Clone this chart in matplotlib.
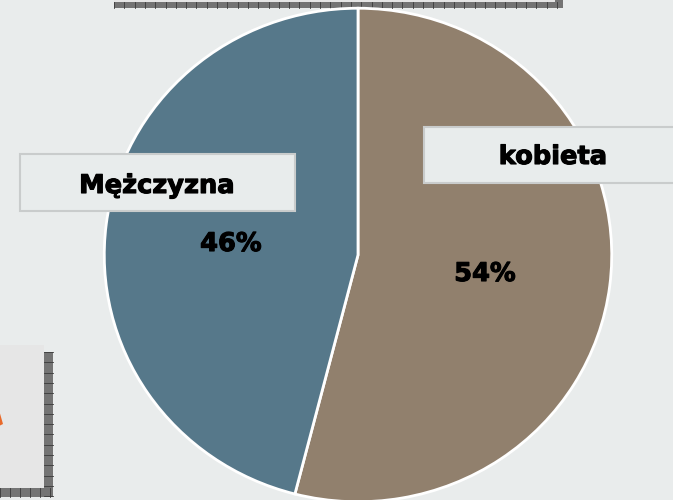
import matplotlib
matplotlib.use("Agg")
import matplotlib.pyplot as plt
from matplotlib.patches import Rectangle, Polygon
import matplotlib.patheffects as pe

categories = ["kobieta", "Mężczyzna"]
values = [54, 46]
colors = ["#91806D", "#56788A"]

W, H = 673, 500
fig = plt.figure(figsize=(W / 100, H / 100), dpi=100)
fig.patch.set_facecolor("#E9ECEC")

# background decorations (pixel coordinates)
bg = fig.add_axes([0, 0, 1, 1])
bg.set_xlim(0, W)
bg.set_ylim(H, 0)
bg.axis("off")
bg.set_zorder(0)

def checker_bar(ax, x0, y0, w, h, step, vertical=False):
    ax.add_patch(Rectangle((x0, y0), w, h, facecolor="#747474", edgecolor="none"))
    if vertical:
        y = y0
        while y < y0 + h:
            ax.plot([x0, x0 + w], [y, y], color="#3A3A3A", lw=0.6)
            y += step
    else:
        x = x0
        while x < x0 + w:
            ax.plot([x, x], [y0, y0 + h], color="#3A3A3A", lw=0.6)
            x += step

# top box
bg.add_patch(Rectangle((114, -5), 446, 8, facecolor="#E6E6E6", edgecolor="none"))
checker_bar(bg, 114, 2, 449, 6, 10.3)
checker_bar(bg, 555, -2, 8, 10, 10, vertical=True)
# bottom-left box
bg.add_patch(Rectangle((0, 345), 44, 144, facecolor="#E6E6E6", edgecolor="none"))
checker_bar(bg, 44, 352, 9, 145, 10.3, vertical=True)
checker_bar(bg, 0, 488, 53, 9, 10, vertical=False)
bg.add_patch(Polygon([(-1, 410), (3, 424), (-1, 426)], closed=True,
                     facecolor="#E8692A", edgecolor="none"))

# pie
ax = fig.add_axes([103 / W, -3 / H, 510 / W, 496 / H])
ax.set_zorder(1)
wedges, _ = ax.pie(values, colors=colors, startangle=90, counterclock=False,
                   radius=1.0, wedgeprops=dict(edgecolor="white", linewidth=2))
ax.set_aspect("auto")
ax.set_xlim(-1.005, 1.005)
ax.set_ylim(-1.005, 1.005)
ax.axis("off")

# overlay labels
ov = fig.add_axes([0, 0, 1, 1])
ov.set_xlim(0, W)
ov.set_ylim(H, 0)
ov.axis("off")
ov.patch.set_alpha(0)
ov.set_zorder(2)

bold_fx = [pe.withStroke(linewidth=0.8, foreground="black")]

label_boxes = {
    "Mężczyzna": (20, 154, 275, 57, 157, 186),
    "kobieta": (424, 127, 260, 56, 553, 157),
}
for name, (x0, y0, w, h, tx, ty) in label_boxes.items():
    ov.add_patch(Rectangle((x0, y0), w, h, facecolor="#E8ECEC",
                           edgecolor="#C9CCCC", linewidth=1.5))
    ov.text(tx, ty, name, ha="center", va="center", fontsize=18.5,
            fontweight="bold", family="DejaVu Sans", color="black",
            path_effects=bold_fx)

pct_pos = {"Mężczyzna": (231, 244), "kobieta": (485, 274)}
for name, v in zip(categories, values):
    x, y = pct_pos[name]
    ov.text(x, y, f"{v}%", ha="center", va="center", fontsize=18.5,
            fontweight="bold", family="DejaVu Sans", color="black",
            path_effects=bold_fx)

fig.savefig("out.png", dpi=100, facecolor=fig.get_facecolor())
